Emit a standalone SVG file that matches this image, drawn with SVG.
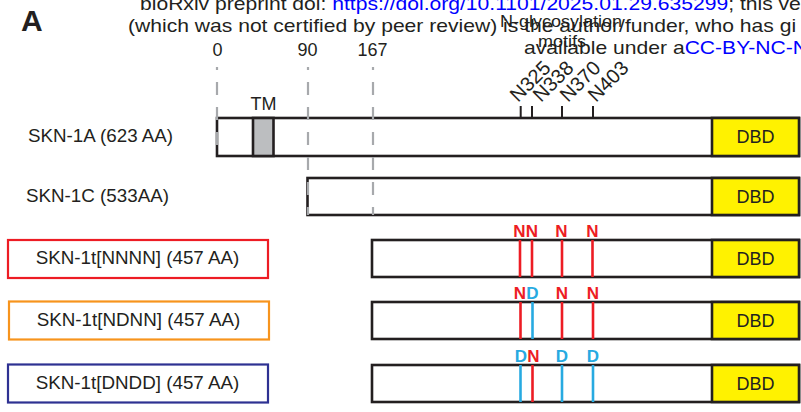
<svg xmlns="http://www.w3.org/2000/svg" width="801" height="412" viewBox="0 0 801 412">
<style>
text{font-family:"Liberation Sans",Arial,sans-serif;fill:#231F20}
.bar{fill:#fff;stroke:#231F20;stroke-width:2.6}
.dbd{fill:#FFF200;stroke:#231F20;stroke-width:2.6}
.tm{fill:#BCBEC0;stroke:#231F20;stroke-width:2.6}
.lbl{font-size:18.8px}
.dbdt{font-size:18px;text-anchor:middle}
.guide{stroke:#A7A9AC;stroke-width:2.2;stroke-dasharray:13 12;fill:none}
.tick{stroke:#231F20;stroke-width:2}
.mr{stroke:#ED1C24;stroke-width:2.6}
.mb{stroke:#27AAE1;stroke-width:2.6}
.r{fill:#ED1C24;font-weight:bold;font-size:17px;text-anchor:middle}
.b{fill:#27AAE1;font-weight:bold;font-size:17px;text-anchor:middle}
.pos{font-size:18px;text-anchor:middle}
.nl{font-size:20px}
.link{fill:#0000FF}
</style>

<g id="header">
<text transform="translate(140 9.5) scale(1.16 1)" font-size="18.2">bioRxiv preprint doi: <tspan class="link">https://doi.org/10.1101/2025.01.29.635299</tspan>; this ve</text>
<text transform="translate(128 31.8) scale(1.16 1)" font-size="18.2">(which was not certified by peer review) is the author/funder, who has gi</text>
<text transform="translate(524 53.5) scale(1.16 1)" font-size="18.2">available under a<tspan class="link">CC-BY-NC-N</tspan></text>
</g>

<text id="panel-label" x="21" y="30.7" font-size="30" font-weight="bold">A</text>

<g id="glyco-label">
<text x="561" y="26.5" font-size="16" text-anchor="middle" textLength="122" lengthAdjust="spacingAndGlyphs" fill="#333">N-glycosylation</text>
<text x="562" y="47" font-size="16" text-anchor="middle" textLength="48" lengthAdjust="spacingAndGlyphs" fill="#333">motifs</text>
</g>

<g id="positions">
<text class="pos" x="217.5" y="56">0</text>
<text class="pos" x="307.5" y="56">90</text>
<text class="pos" x="372.5" y="56">167</text>
</g>

<g id="SKN-1A">
<text class="lbl" x="28" y="142">SKN-1A (623 AA)</text>
<rect class="bar" x="217" y="118" width="582" height="38"/>
<rect class="tm" x="253" y="118" width="20.5" height="38"/>
<text x="263.5" y="110" font-size="18" text-anchor="middle">TM</text>
<rect class="dbd" x="712" y="118" width="87" height="38"/>
<text class="dbdt" x="755.5" y="143.4">DBD</text>
<line class="tick" x1="520.7" y1="106" x2="520.7" y2="118"/>
<line class="tick" x1="532" y1="106" x2="532" y2="118"/>
<line class="tick" x1="562" y1="106" x2="562" y2="118"/>
<line class="tick" x1="593" y1="106" x2="593" y2="118"/>
<text class="nl" transform="translate(518 103) rotate(-45)">N325</text>
<text class="nl" transform="translate(541 103) rotate(-45)">N338</text>
<text class="nl" transform="translate(568 103) rotate(-45)">N370</text>
<text class="nl" transform="translate(596 103) rotate(-45)">N403</text>
</g>

<g id="SKN-1C">
<text class="lbl" x="26" y="202">SKN-1C (533AA)</text>
<rect class="bar" x="307.5" y="178" width="491.5" height="37"/>
<rect class="dbd" x="712" y="178" width="87" height="37"/>
<text class="dbdt" x="755.5" y="202.8">DBD</text>
</g>

<g id="SKN-1t-NNNN">
<rect x="8" y="240" width="260" height="38" fill="#fff" stroke="#ED1C24" stroke-width="2.2"/>
<text class="lbl" x="137.5" y="264" text-anchor="middle">SKN-1t[NNNN] (457 AA)</text>
<rect class="bar" x="372" y="240" width="427" height="37"/>
<rect class="dbd" x="712" y="240" width="87" height="37"/>
<text class="dbdt" x="755.5" y="264.8">DBD</text>
<line class="mr" x1="520" y1="240" x2="520" y2="277"/>
<line class="mr" x1="532" y1="240" x2="532" y2="277"/>
<line class="mr" x1="562" y1="240" x2="562" y2="277"/>
<line class="mr" x1="592.5" y1="240" x2="592.5" y2="277"/>
<text class="r" x="519.5" y="237">N</text>
<text class="r" x="531.8" y="237">N</text>
<text class="r" x="561.5" y="237">N</text>
<text class="r" x="592.5" y="237">N</text>
</g>

<g id="SKN-1t-NDNN">
<rect x="9" y="301.5" width="260" height="38" fill="#fff" stroke="#F7941D" stroke-width="2.2"/>
<text class="lbl" x="138.5" y="325.5" text-anchor="middle">SKN-1t[NDNN] (457 AA)</text>
<rect class="bar" x="372" y="302" width="427" height="37"/>
<rect class="dbd" x="712" y="302" width="87" height="37"/>
<text class="dbdt" x="755.5" y="326.8">DBD</text>
<line class="mr" x1="520.5" y1="302" x2="520.5" y2="339"/>
<line class="mb" x1="532.5" y1="302" x2="532.5" y2="339"/>
<line class="mr" x1="562" y1="302" x2="562" y2="339"/>
<line class="mr" x1="593" y1="302" x2="593" y2="339"/>
<text class="r" x="520" y="299">N</text>
<text class="b" x="532.5" y="299">D</text>
<text class="r" x="562" y="299">N</text>
<text class="r" x="593" y="299">N</text>
</g>

<g id="SKN-1t-DNDD">
<rect x="8" y="364.5" width="260" height="38" fill="#fff" stroke="#2E3192" stroke-width="2.2"/>
<text class="lbl" x="137.5" y="388.5" text-anchor="middle">SKN-1t[DNDD] (457 AA)</text>
<rect class="bar" x="372" y="365" width="427" height="37"/>
<rect class="dbd" x="712" y="365" width="87" height="37"/>
<text class="dbdt" x="755.5" y="389.8">DBD</text>
<line class="mb" x1="520.5" y1="365" x2="520.5" y2="402"/>
<line class="mr" x1="532.5" y1="365" x2="532.5" y2="402"/>
<line class="mb" x1="562" y1="365" x2="562" y2="402"/>
<line class="mb" x1="593" y1="365" x2="593" y2="402"/>
<text class="b" x="521" y="362">D</text>
<text class="r" x="533.5" y="362">N</text>
<text class="b" x="562" y="362">D</text>
<text class="b" x="593" y="362">D</text>
</g>

<g id="connectors">
<line class="guide" x1="217" y1="67" x2="217" y2="156" stroke-dashoffset="10"/>
<line class="guide" x1="308" y1="67" x2="308" y2="215" stroke-dashoffset="10"/>
<line class="guide" x1="373" y1="67" x2="373" y2="215" stroke-dashoffset="10"/>
</g>
</svg>
